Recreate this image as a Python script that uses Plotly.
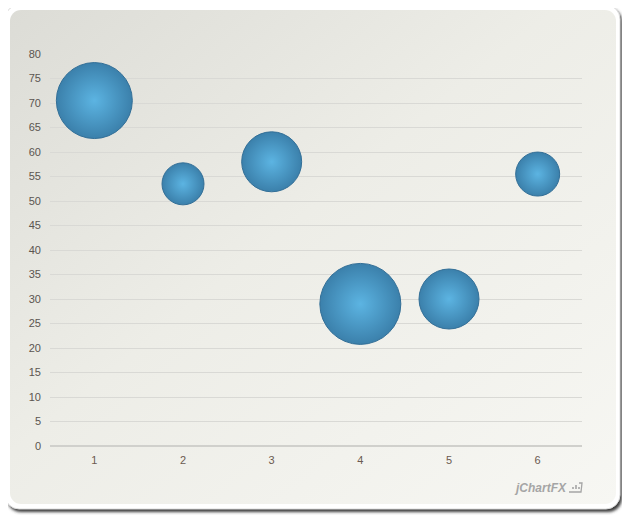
import base64
import plotly.graph_objects as go

categories = [1, 2, 3, 4, 5, 6]
y_values = [70.5, 53.5, 58, 29, 30, 55.5]
bubble_sizes = [38, 21, 30, 40.5, 30, 22]
y_ticks = list(range(0, 85, 5))

OFF = 8  # page body margin
W, H = 630 - OFF, 525 - OFF
PL, PT, PW, PH = 50, 54, 532, 392  # plot area on screen

fig = go.Figure()
fig.add_trace(go.Scatter(
    x=categories, y=y_values, mode="markers",
    marker=dict(
        size=bubble_sizes, sizemode="diameter", sizeref=0.5,
        color="#3b80ab",
        gradient=dict(type="radial", color="#5cb4e2"),
        line=dict(color="#336f97", width=1),
        opacity=1,
    ),
    cliponaxis=False,
    hoverinfo="x+y",
))

svg = """<svg xmlns="http://www.w3.org/2000/svg" width="630" height="525" viewBox="0 0 630 525">
<defs>
<linearGradient id="g" x1="0" y1="0" x2="1" y2="1">
<stop offset="0" stop-color="#dcdcd6"/>
<stop offset="0.45" stop-color="#edede7"/>
<stop offset="1" stop-color="#f7f7f3"/>
</linearGradient>
<filter id="b" x="-5%" y="-5%" width="110%" height="110%"><feGaussianBlur stdDeviation="1.5"/></filter>
</defs>
<rect x="0" y="0" width="630" height="525" fill="#ffffff"/>
<rect x="7" y="8" width="615" height="504" rx="14" fill="#3a3a3a" filter="url(#b)"/>
<rect x="5" y="5" width="615" height="504" rx="14" fill="#ffffff" stroke="#dcdcdc" stroke-width="1"/>
<rect x="10" y="10" width="606" height="494" rx="11" fill="url(#g)"/>
<g transform="translate(568,480)" fill="none" stroke="#a5a5a5" stroke-width="1.3">
<path d="M1,12 L13,12 L14,3 L11,3"/>
<path d="M5,9 L5,7 M8,9 L8,5 M11,9 L11,7" stroke-width="1.6"/>
</g>
</svg>"""
src = "data:image/svg+xml;base64," + base64.b64encode(svg.encode()).decode()

fig.update_layout(
    width=W, height=H,
    margin=dict(l=PL - OFF, r=W - (PL - OFF) - PW, t=PT - OFF, b=H - (PT - OFF) - PH, pad=0),
    paper_bgcolor="#ffffff",
    plot_bgcolor="rgba(0,0,0,0)",
    showlegend=False,
    font=dict(family="Liberation Sans, Arial, sans-serif", size=11, color="#5b5550"),
    images=[dict(source=src, xref="paper", yref="paper",
                 x=(0 - PL) / PW, y=(PT + PH - 0) / PH,
                 sizex=630 / PW, sizey=525 / PH, xanchor="left", yanchor="top",
                 sizing="stretch", layer="below")],
    xaxis=dict(range=[0.5, 6.5], tickvals=categories, ticktext=[str(c) for c in categories],
               showgrid=False, zeroline=False, showline=False, ticks="",
               tickfont=dict(color="#6b5a50", size=11), ticklabelstandoff=6, fixedrange=True),
    yaxis=dict(range=[0, 80], tickvals=y_ticks, showgrid=True, gridcolor="#d9d9d5", gridwidth=1,
               zeroline=True, zerolinecolor="#d0d0cc", zerolinewidth=2, showline=False, ticks="",
               tickfont=dict(color="#5b5550", size=11), ticklabelstandoff=8, fixedrange=True),
    annotations=[dict(text="<b><i>jChartFX</i></b>", xref="paper", yref="paper",
                      x=(540 - PL) / PW, y=(PT + PH - 488) / PH, xanchor="center", yanchor="middle",
                      showarrow=False, font=dict(color="#a5a5a5", size=12,
                                                 family="Liberation Sans, Arial, sans-serif"))],
)

fig.write_html("out.html")
